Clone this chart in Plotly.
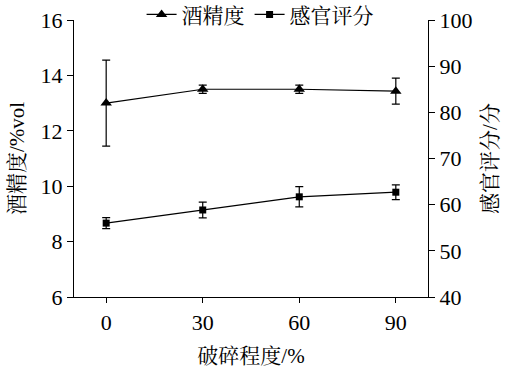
import plotly.graph_objects as go

crush = [0, 30, 60, 90]
alcohol = [13.0, 13.5, 13.5, 13.43]
alcohol_err = [1.55, 0.15, 0.15, 0.47]
sensory = [56.0, 58.85, 61.7, 62.7]
sensory_err = [1.2, 1.7, 2.2, 1.6]

FONT = "Liberation Serif, Times New Roman, Noto Serif CJK SC, Noto Sans CJK SC, serif"

fig = go.Figure()
fig.add_trace(go.Scatter(
    x=crush, y=alcohol, name="酒精度", mode="lines+markers",
    line=dict(color="black", width=1.2),
    marker=dict(symbol="triangle-up", size=10, color="black"),
    error_y=dict(type="data", array=alcohol_err, color="black", thickness=1.2, width=4),
    yaxis="y"))
fig.add_trace(go.Scatter(
    x=crush, y=sensory, name="感官评分", mode="lines+markers",
    line=dict(color="black", width=1.2),
    marker=dict(symbol="square", size=7, color="black"),
    error_y=dict(type="data", array=sensory_err, color="black", thickness=1.2, width=4),
    yaxis="y2"))

fig.update_layout(
    width=506, height=370,
    margin=dict(l=74, r=78, t=20, b=73, autoexpand=False),
    paper_bgcolor="white", plot_bgcolor="white",
    font=dict(family=FONT, size=22, color="black"),
    showlegend=True,
    legend=dict(orientation="h", xref="container", yref="container",
                x=0.514, xanchor="center", y=0.96, yanchor="middle",
                font=dict(size=21), bgcolor="rgba(0,0,0,0)", itemwidth=30),
    xaxis=dict(range=[-10, 100], tickvals=crush, ticktext=[str(v) for v in crush],
               showline=True, linecolor="black", linewidth=1.2, automargin=False,
               ticks="outside", ticklen=5, tickcolor="black", showgrid=False, zeroline=False,
               title=dict(text="破碎程度/%", font=dict(size=21), standoff=14)),
    yaxis=dict(range=[6, 16], tickvals=[6, 8, 10, 12, 14, 16],
               showline=True, linecolor="black", linewidth=1.2, automargin=False,
               ticks="outside", ticklen=6, tickcolor="black", showgrid=False, zeroline=False,
               title=dict(text="酒精度/%vol", font=dict(size=21), standoff=10)),
    yaxis2=dict(range=[40, 100], tickvals=[40, 50, 60, 70, 80, 90, 100],
                overlaying="y", side="right",
                showline=True, linecolor="black", linewidth=1.2, automargin=False,
                ticks="outside", ticklen=6, tickcolor="black", showgrid=False, zeroline=False,
                title=dict(text="感官评分/分", font=dict(size=21), standoff=10)),
)

fig.write_html("out.html", config={"displayModeBar": False},
               post_script="document.body.style.margin='0';document.body.style.overflow='hidden';")
